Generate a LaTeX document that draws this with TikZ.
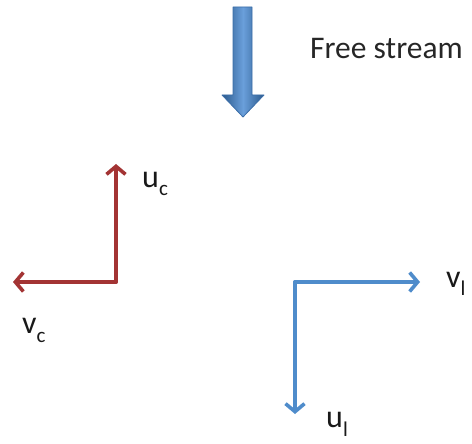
\documentclass[tikz,border=0pt]{standalone}
\usepackage{fontspec}
\setmainfont{Carlito}
\usetikzlibrary{arrows.meta}
\definecolor{redvec}{HTML}{A33434}
\definecolor{bluevec}{HTML}{4F8CCB}
\definecolor{blkdark}{HTML}{2B5A8C}
\definecolor{blkmid}{HTML}{6A9FDB}
\definecolor{blkedge}{HTML}{3A6DA8}
\newcommand{\mysub}[1]{{\fontsize{21}{21}\selectfont\raisebox{-9pt}{#1}}}
\tikzset{
  vec/.style={line width=3.6pt, line cap=round, -{Straight Barb[length=8pt,width=19pt,line width=3.6pt]}},
  lbl/.style={font=\fontsize{32}{32}\selectfont, inner sep=0pt, anchor=base west, text=black!90},
}
\begin{document}
\begin{tikzpicture}[x=1pt,y=-1pt]
\useasboundingbox (0,0) rectangle (472,444);
% block arrow
\path[left color=blkdark, right color=blkdark, middle color=blkmid]
  (233,7) -- (252,7) -- (252,95) -- (264,95) -- (243,117) -- (222,95) -- (233,95) -- cycle;
\draw[blkedge, line width=0.8pt, line join=round]
  (233,7) -- (252,7) -- (252,95) -- (264,95) -- (243,117) -- (222,95) -- (233,95) -- cycle;
\node[font=\fontsize{31.5}{31.5}\selectfont, inner sep=0pt, anchor=base west, text=black!85] (fs) at (310,59) {Free stream};
% red frame
\coordinate (rc) at (116,282);
\coordinate (ru) at (116,164);
\coordinate (rv) at (13,282);
\draw[vec, redvec] (rc) -- (ru);
\draw[vec, redvec] (rc) -- (rv);
\node[lbl] (uc) at (142,187) {u\mysub{c}};
\node[lbl] (vc) at (22,333) {v\mysub{c}};
% blue frame
\coordinate (bc) at (295,282);
\coordinate (bv) at (420,282);
\coordinate (bu) at (295,414);
\draw[vec, bluevec] (bc) -- (bv);
\draw[vec, bluevec] (bc) -- (bu);
\node[lbl] (vl) at (446,287) {v\mysub{l}};
\node[lbl] (ul) at (326,427) {u\mysub{l}};
\end{tikzpicture}
\end{document}
